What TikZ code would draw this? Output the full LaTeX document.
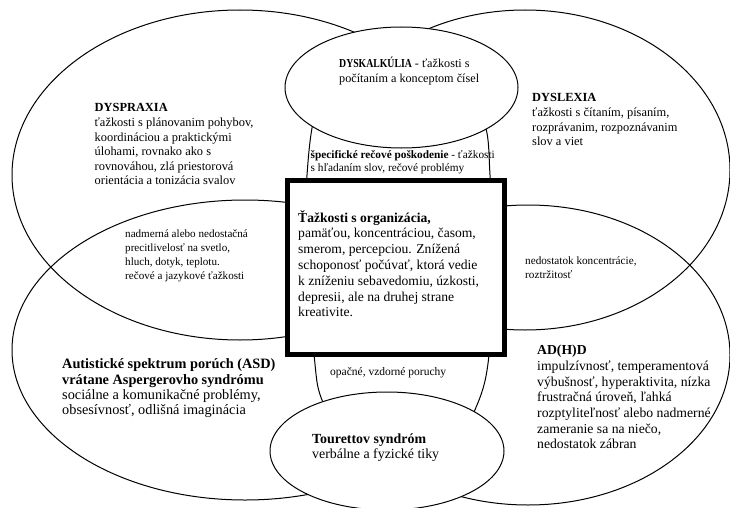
\documentclass[tikz,border=0pt]{standalone}
\usepackage{graphicx}
\usepackage{fontspec}
\setmainfont{Liberation Serif}
\begin{document}
\begin{tikzpicture}[x=1pt,y=-1pt,
  outl/.style={line width=1pt, draw=black},
  blob/.style={outl, fill=white},
  txt/.style={anchor=north west, inner sep=0pt, align=left, text=black},
  fa/.style={font={\fontsize{11.2}{14}\selectfont}},
  fb/.style={font={\fontsize{12.4}{14.6}\selectfont}},
  fc/.style={font={\fontsize{13.7}{15.7}\selectfont}}]
\useasboundingbox (0,0) rectangle (730,508);
\fill[white] (0,0) rectangle (730,508);
% four big ellipses
\draw[outl] (240,175) ellipse [x radius=228, y radius=165];
\draw[outl] (525,170) ellipse [x radius=205, y radius=160];
\draw[outl] (245,350) ellipse [x radius=233, y radius=150];
\draw[outl] (528,355) ellipse [x radius=202, y radius=150];
% tall middle shape
\draw[blob] plot[smooth cycle, tension=0.6] coordinates {(399,38) (350,58) (318,105) (307,175) (306,265) (314,355) (322,400) (350,445) (399,468) (450,448) (477,405) (489,355) (492,265) (490,175) (483,118) (450,60)};
% small ellipses
\draw[blob] (401.5,87.5) ellipse [x radius=116.5, y radius=60.5];
\draw[blob] (387,451) ellipse [x radius=117, y radius=59];
% box
\draw[line width=4.5pt, fill=white] (287.5,180.5) rectangle (504.5,354.5);
% texts
\node[txt, font={\fontsize{12.2}{15}\selectfont}] (dysk) at (339,57) {\scalebox{0.8}[1]{\textbf{DYSKALKÚLIA}} - ťažkosti s\\počítaním a konceptom čísel};
\node[txt, fb] (dyspr) at (94.5,103.5) {\textbf{DYSPRAXIA}\\ťažkosti s plánovanim pohybov,\\koordináciou a praktickými\\úlohami, rovnako ako s\\rovnováhou, zlá priestorová\\orientácia a tonizácia svalov};
\node[txt, fb] (dysl) at (532,93.5) {\textbf{DYSLEXIA}\\ťažkosti s čítaním, písaním,\\rozprávanim, rozpoznávanim\\slov a viet};
\node[txt, font={\fontsize{11.3}{13}\selectfont}] (spec) at (310.5,150) {\textbf{špecifické rečové poškodenie} - ťažkosti\\s hľadaním slov, rečové problémy};
\node[txt, font={\fontsize{11.1}{14}\selectfont}] (sens) at (125,230) {nadmerná alebo nedostačná\\precitlivelosť na svetlo,\\hluch, dotyk, teplotu.\\rečové a jazykové ťažkosti};
\node[txt, fa] (konc) at (525,257) {nedostatok koncentrácie,\\roztržitosť};
\node[txt, font={\fontsize{13.6}{15.8}\selectfont}] (org) at (298,210) {\textbf{Ťažkosti s organizácia,}\\pamäťou, koncentráciou, časom,\\smerom, percepciou. Znížená\\schoponosť počúvať, ktorá vedie\\k zníženiu sebavedomiu, úzkosti,\\depresii, ale na druhej strane\\kreativite.};
\node[txt, font={\fontsize{11.5}{14}\selectfont}] (opac) at (330,367) {opačné, vzdorné poruchy};
\node[txt, font={\fontsize{14.3}{15.4}\selectfont}] (asd) at (62,358.6) {\textbf{Autistické spektrum porúch (ASD)}\\\textbf{vrátane Aspergerovho syndrómu}\\sociálne a komunikačné problémy,\\obsesívnosť, odlišná imaginácia};
\node[txt, fc] (adhd) at (537,345) {\textbf{AD(H)D}\\impulzívnosť, temperamentová\\výbušnosť, hyperaktivita, nízka\\frustračná úroveň, ľahká\\rozptyliteľnosť alebo nadmerné\\zameranie sa na niečo,\\nedostatok zábran};
\node[txt, font={\fontsize{13.9}{15}\selectfont}] (tour) at (312,434) {\textbf{Tourettov syndróm}\\verbálne a fyzické tiky};
\end{tikzpicture}
\end{document}
